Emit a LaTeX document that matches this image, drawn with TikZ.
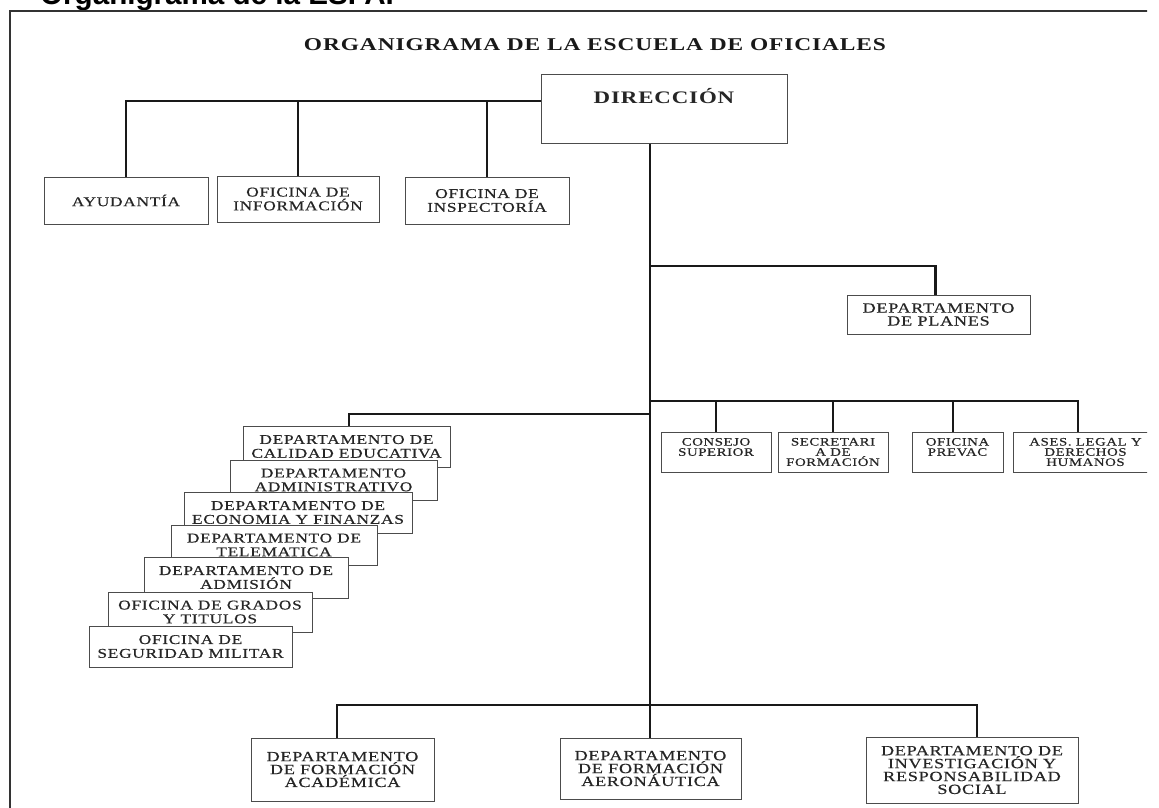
\documentclass[tikz,border=0pt]{standalone}
\usepackage{fontspec}
\newfontfamily\orgfont[FakeStretch=1.3,LetterSpace=5,FakeBold=0.4]{Liberation Serif}
\newfontfamily\titlefont[FakeStretch=1.3,LetterSpace=5]{Liberation Serif}
\newfontfamily\headfont{Liberation Sans}
\usetikzlibrary{calc}
\begin{document}
\begin{tikzpicture}[x=1pt,y=-1pt,
  unit/.style={draw=black!70, line width=1pt, fill=white, inner sep=0pt,
    font=\orgfont\fontsize{13.4}{13.8}\selectfont, text=black!85, align=center},
  small/.style={unit, font=\orgfont\fontsize{11.4}{10.2}\selectfont},
  tall/.style={unit, font=\orgfont\fontsize{14}{12.9}\selectfont},
  link/.style={draw=black!90, line width=2.2pt},
  frame/.style={draw=black!80, line width=2pt},
]
\useasboundingbox (0,0) rectangle (1159,807);
\clip (0,0) rectangle (1147,807);

% page heading and outer frame
\node[anchor=base west, font=\headfont\bfseries\fontsize{29.6}{30}\selectfont, inner sep=0pt] (head) at (40,4) {Organigrama de la ESFA.};
\draw[frame] (10,808) -- (10,11) -- (1148,11);

\node[font=\titlefont\bfseries\fontsize{18}{16}\selectfont, text=black!90] (title) at (595,45) {ORGANIGRAMA DE LA ESCUELA DE OFICIALES};

% direction and staff offices
\node[unit, minimum width=246, minimum height=69, font=\titlefont\bfseries\fontsize{17.6}{25}\selectfont] (dir) at (664,108.5) {DIRECCIÓN\\\mbox{}};
\node[unit, minimum width=164, minimum height=47] (ayu) at (126,200.5) {AYUDANTÍA};
\node[unit, minimum width=162, minimum height=46] (info) at (298,199) {OFICINA DE\\INFORMACIÓN};
\node[unit, minimum width=164, minimum height=47] (insp) at (487,200.5) {OFICINA DE\\INSPECTORÍA};
\node[tall, minimum width=183, minimum height=39] (planes) at (938.5,314.5) {DEPARTAMENTO\\DE PLANES};

% advisory bodies
\node[small, minimum width=110, minimum height=40] (consejo) at (716,452) {CONSEJO\\SUPERIOR\\\mbox{}};
\node[small, minimum width=110, minimum height=40] (secre) at (833,452) {SECRETARI\\A DE\\FORMACIÓN};
\node[small, minimum width=91, minimum height=40] (prevac) at (957.5,452) {OFICINA\\PREVAC\\\mbox{}};
\node[small, minimum width=145, minimum height=40] (ases) at (1085.5,452) {ASES. LEGAL Y\\DERECHOS\\HUMANOS};

% stacked departments
\node[unit, minimum width=207, minimum height=41] (calidad) at (346.5,446.5) {DEPARTAMENTO DE\\CALIDAD EDUCATIVA};
\node[unit, minimum width=207, minimum height=40] (admin) at (333.5,480) {DEPARTAMENTO\\ADMINISTRATIVO};
\node[unit, minimum width=228, minimum height=41] (econ) at (298,512.5) {DEPARTAMENTO DE\\ECONOMIA Y FINANZAS};
\node[unit, minimum width=206, minimum height=40] (tele) at (274,545) {DEPARTAMENTO DE\\TELEMATICA};
\node[unit, minimum width=204, minimum height=41] (admis) at (246,577.5) {DEPARTAMENTO DE\\ADMISIÓN};
\node[unit, minimum width=204, minimum height=40] (grados) at (210,612) {OFICINA DE GRADOS\\Y TITULOS};
\node[unit, minimum width=203, minimum height=41] (segur) at (190.5,646.5) {OFICINA DE\\SEGURIDAD MILITAR};

% training departments
\node[tall, minimum width=183, minimum height=63] (acad) at (342.5,769.5) {DEPARTAMENTO\\DE FORMACIÓN\\ACADÉMICA};
\node[tall, minimum width=181, minimum height=61] (aero) at (650.5,768.5) {DEPARTAMENTO\\DE FORMACIÓN\\AERONÁUTICA};
\node[tall, minimum width=212, minimum height=66] (invest) at (972,770) {DEPARTAMENTO DE\\INVESTIGACIÓN Y\\RESPONSABILIDAD\\SOCIAL};

% connectors
\coordinate (dirL) at ($(dir.north west)!0.39!(dir.south west)$);
\coordinate (trunk) at ([xshift=-14pt]dir.south);
\coordinate (jPlan) at (650,266);
\coordinate (jRight) at (650,401);
\coordinate (jLeft) at (650,414);
\coordinate (jBot) at (650,705);

\draw[link] (dirL) -| (ayu.north);
\draw[link] (dirL) -| (info.north);
\draw[link] (dirL) -| (insp.north);
\draw[link] (trunk) -- (trunk |- aero.north);
\draw[link] (jPlan) -| ([xshift=-3pt]planes.north);
\draw[link] (jRight) -| (consejo.north);
\draw[link] (jRight) -| (secre.north);
\draw[link] (jRight) -| ([xshift=-4.5pt]prevac.north);
\draw[link] (jRight) -| ([xshift=-7.5pt]ases.north);
\draw[link] (jLeft) -| ([xshift=2.5pt]calidad.north);
\draw[link] (jBot) -| ([xshift=-5.5pt]acad.north);
\draw[link] (jBot) -| ([xshift=5pt]invest.north);
\end{tikzpicture}
\end{document}
